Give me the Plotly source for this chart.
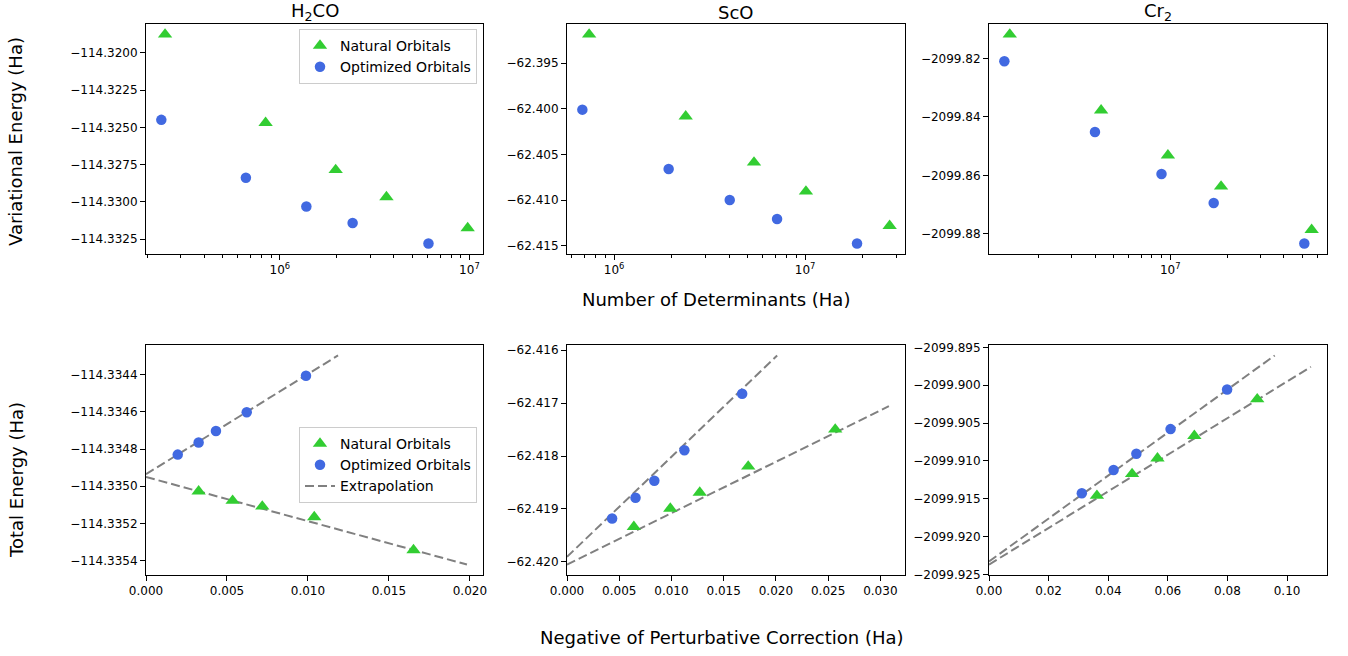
import math
import plotly.graph_objects as go

# ---------------- data: top row (variational energy vs number of determinants) ----------------
h2co_nat_ndet = [2.48e5, 8.41e5, 1.97e6, 3.65e6, 9.79e6]
h2co_nat_evar = [-114.31877, -114.32470, -114.32786, -114.32968, -114.33176]
h2co_opt_ndet = [2.37e5, 6.62e5, 1.38e6, 2.42e6, 6.08e6]
h2co_opt_evar = [-114.32450, -114.32838, -114.33031, -114.33142, -114.33280]

sco_nat_ndet = [7.40e5, 2.37e6, 5.40e6, 1.01e7, 2.77e7]
sco_nat_evar = [-62.39186, -62.40082, -62.40587, -62.40905, -62.41281]
sco_opt_ndet = [6.82e5, 1.93e6, 4.03e6, 7.13e6, 1.87e7]
sco_opt_evar = [-62.40009, -62.40659, -62.40999, -62.41207, -62.41475]

cr2_nat_ndet = [1.41e6, 4.30e6, 9.72e6, 1.86e7, 5.62e7]
cr2_nat_evar = [-2099.81177, -2099.83773, -2099.85317, -2099.86381, -2099.87866]
cr2_opt_ndet = [1.32e6, 3.99e6, 8.99e6, 1.70e7, 5.14e7]
cr2_opt_evar = [-2099.82093, -2099.84514, -2099.85955, -2099.86950, -2099.88336]

# ---------------- data: bottom row (total energy vs -PT2 correction) ----------------
h2co_nat_pt2 = [0.00325, 0.00535, 0.00718, 0.01039, 0.01652]
h2co_nat_etot = [-114.335027, -114.335077, -114.335108, -114.335165, -114.335342]
h2co_opt_pt2 = [0.00196, 0.00325, 0.00432, 0.00622, 0.00988]
h2co_opt_etot = [-114.334830, -114.334765, -114.334703, -114.334603, -114.334407]

sco_nat_pt2 = [0.00640, 0.00989, 0.01271, 0.01735, 0.02568]
sco_nat_etot = [-62.419338, -62.418992, -62.418690, -62.418198, -62.417499]
sco_opt_pt2 = [0.00432, 0.00656, 0.00836, 0.01124, 0.01677]
sco_opt_etot = [-62.419181, -62.418790, -62.418469, -62.417890, -62.416824]

cr2_nat_pt2 = [0.0362, 0.0480, 0.05652, 0.06889, 0.08999]
cr2_nat_etot = [-2099.91460, -2099.91173, -2099.90966, -2099.90668, -2099.90185]
cr2_opt_pt2 = [0.03114, 0.04179, 0.04944, 0.06090, 0.07988]
cr2_opt_etot = [-2099.91428, -2099.91120, -2099.90906, -2099.90580, -2099.90057]

# extrapolation lines (end points)
h2co_nat_fit_x = [0.0, 0.01982]
h2co_nat_fit_y = [-114.334950, -114.335420]
h2co_opt_fit_x = [0.0, 0.01186]
h2co_opt_fit_y = [-114.334935, -114.334298]

sco_nat_fit_x = [0.0, 0.03082]
sco_nat_fit_y = [-62.420051, -62.417059]
sco_opt_fit_x = [0.0, 0.02012]
sco_opt_fit_y = [-62.419906, -62.416100]

cr2_nat_fit_x = [0.0, 0.10799]
cr2_nat_fit_y = [-2099.92370, -2099.89758]
cr2_opt_fit_x = [0.0, 0.09586]
cr2_opt_fit_y = [-2099.92330, -2099.89607]

# ---------------- titles / labels / ticks ----------------
titles = ["H<sub>2</sub>CO", "ScO", "Cr<sub>2</sub>"]
top_ylabel = "Variational Energy (Ha)"
bottom_ylabel = "Total Energy (Ha)"
top_xlabel = "Number of Determinants (Ha)"
bottom_xlabel = "Negative of Perturbative Correction (Ha)"
legend_names = ["Natural Orbitals", "Optimized Orbitals", "Extrapolation"]

top_yticks = [
    [-114.3200, -114.3225, -114.3250, -114.3275, -114.3300, -114.3325],
    [-62.395, -62.400, -62.405, -62.410, -62.415],
    [-2099.82, -2099.84, -2099.86, -2099.88],
]
top_yfmt = [".4f", ".3f", ".2f"]
bottom_yticks = [
    [-114.3344, -114.3346, -114.3348, -114.3350, -114.3352, -114.3354],
    [-62.416, -62.417, -62.418, -62.419, -62.420],
    [-2099.895, -2099.900, -2099.905, -2099.910, -2099.915, -2099.920, -2099.925],
]
bottom_yfmt = [".4f", ".3f", ".3f"]
bottom_xticks = [
    [0.000, 0.005, 0.010, 0.015, 0.020],
    [0.000, 0.005, 0.010, 0.015, 0.020, 0.025, 0.030],
    [0.00, 0.02, 0.04, 0.06, 0.08, 0.10],
]
bottom_xfmt = [".3f", ".3f", ".2f"]
log_major_exps = [6, 7]

# ---------------- styling ----------------
W, H = 1348, 656
GREEN = "#32CD32"
BLUE = "#4169E1"
GRAY = "#808080"
FONT = "DejaVu Sans"

col_px = [(146, 483), (567, 905), (989, 1327)]
top_px = (24, 254)
bot_px = (345, 575)


def xdom(c):
    return [col_px[c][0] / W, col_px[c][1] / W]


def ydom(r):
    a, b = r
    return [1 - b / H, 1 - a / H]


def padded(vals, frac=0.05):
    lo, hi = min(vals), max(vals)
    d = (hi - lo) * frac
    return [lo - d, hi + d]


axis_base = dict(
    showline=True, mirror=True, linecolor="black", linewidth=1,
    ticks="outside", ticklen=5, tickwidth=1, tickcolor="black",
    showgrid=False, zeroline=False, automargin=False,
    tickfont=dict(family=FONT, size=12, color="black"),
)

top_sets = [
    (h2co_nat_ndet, h2co_nat_evar, h2co_opt_ndet, h2co_opt_evar),
    (sco_nat_ndet, sco_nat_evar, sco_opt_ndet, sco_opt_evar),
    (cr2_nat_ndet, cr2_nat_evar, cr2_opt_ndet, cr2_opt_evar),
]
bot_sets = [
    (h2co_nat_pt2, h2co_nat_etot, h2co_opt_pt2, h2co_opt_etot,
     h2co_nat_fit_x, h2co_nat_fit_y, h2co_opt_fit_x, h2co_opt_fit_y),
    (sco_nat_pt2, sco_nat_etot, sco_opt_pt2, sco_opt_etot,
     sco_nat_fit_x, sco_nat_fit_y, sco_opt_fit_x, sco_opt_fit_y),
    (cr2_nat_pt2, cr2_nat_etot, cr2_opt_pt2, cr2_opt_etot,
     cr2_nat_fit_x, cr2_nat_fit_y, cr2_opt_fit_x, cr2_opt_fit_y),
]

fig = go.Figure()
layout = {}

tri = dict(symbol="triangle-up", size=12.5, color=GREEN, line=dict(width=0))
circ = dict(symbol="circle", size=10.5, color=BLUE, line=dict(width=0))
dash_line = dict(color=GRAY, width=2, dash="9px,4px")

for c in range(3):
    # ---------- top row ----------
    n = 2 * c + 1
    xa, ya = f"x{n}", f"y{n}"
    nx, ny, ox, oy = top_sets[c]
    fig.add_trace(go.Scatter(x=nx, y=ny, mode="markers", marker=tri,
                             name=legend_names[0], xaxis=xa, yaxis=ya,
                             showlegend=(c == 0), legend="legend"))
    fig.add_trace(go.Scatter(x=ox, y=oy, mode="markers", marker=circ,
                             name=legend_names[1], xaxis=xa, yaxis=ya,
                             showlegend=(c == 0), legend="legend"))
    logs = [math.log10(v) for v in nx + ox]
    xr = padded(logs)
    yr = padded(ny + oy)
    minor_vals = [k * 10 ** d for d in range(5, 8) for k in range(2, 10)]
    layout[f"xaxis{n}"] = dict(
        axis_base, type="log", domain=xdom(c), anchor=ya, range=xr,
        tickvals=[10 ** e for e in log_major_exps],
        ticktext=[f"10<sup>{e}</sup>" for e in log_major_exps],
        minor=dict(tickvals=minor_vals, ticks="outside", ticklen=3,
                   tickwidth=0.8, tickcolor="black", showgrid=False),
    )
    layout[f"yaxis{n}"] = dict(
        axis_base, domain=ydom(top_px), anchor=xa, range=yr,
        tickvals=top_yticks[c], tickformat=top_yfmt[c],
    )

    # ---------- bottom row ----------
    m = 2 * c + 2
    xb, yb = f"x{m}", f"y{m}"
    bnx, bny, box_, boy, fnx, fny, fox, foy = bot_sets[c]
    fig.add_trace(go.Scatter(x=fnx, y=fny, mode="lines", line=dash_line,
                             name=legend_names[2], xaxis=xb, yaxis=yb,
                             showlegend=False, legend="legend2"))
    fig.add_trace(go.Scatter(x=fox, y=foy, mode="lines", line=dash_line,
                             name=legend_names[2], xaxis=xb, yaxis=yb,
                             showlegend=False, legend="legend2"))
    fig.add_trace(go.Scatter(x=bnx, y=bny, mode="markers", marker=tri,
                             name=legend_names[0], xaxis=xb, yaxis=yb,
                             showlegend=(c == 0), legend="legend2"))
    fig.add_trace(go.Scatter(x=box_, y=boy, mode="markers", marker=circ,
                             name=legend_names[1], xaxis=xb, yaxis=yb,
                             showlegend=(c == 0), legend="legend2"))
    if c == 0:
        fig.add_trace(go.Scatter(x=[None], y=[None], mode="lines", line=dash_line,
                                 name=legend_names[2], xaxis=xb, yaxis=yb,
                                 showlegend=True, legend="legend2"))
    allx = bnx + box_ + fnx + fox
    ally = bny + boy + fny + foy
    bxr = padded(allx)
    bxr[0] = 0.0
    layout[f"xaxis{m}"] = dict(
        axis_base, domain=xdom(c), anchor=yb, range=bxr,
        tickvals=bottom_xticks[c], tickformat=bottom_xfmt[c],
    )
    layout[f"yaxis{m}"] = dict(
        axis_base, domain=ydom(bot_px), anchor=xb, range=padded(ally),
        tickvals=bottom_yticks[c], tickformat=bottom_yfmt[c],
    )

ann = []
title_centers = [314.5, 736, 1158]
for c in range(3):
    ann.append(dict(text=titles[c], x=title_centers[c] / W, y=1 - 12 / H,
                    xref="paper", yref="paper", showarrow=False,
                    xanchor="center", yanchor="middle",
                    font=dict(family=FONT, size=18, color="black")))
label_font = dict(family=FONT, size=18, color="black")
ann.append(dict(text=top_ylabel, x=16 / W, y=1 - 142 / H, xref="paper", yref="paper",
                showarrow=False, textangle=-90, xanchor="center", yanchor="middle",
                font=label_font))
ann.append(dict(text=bottom_ylabel, x=16 / W, y=1 - 480 / H, xref="paper", yref="paper",
                showarrow=False, textangle=-90, xanchor="center", yanchor="middle",
                font=label_font))
ann.append(dict(text=top_xlabel, x=716 / W, y=1 - 299 / H, xref="paper", yref="paper",
                showarrow=False, xanchor="center", yanchor="middle", font=label_font))
ann.append(dict(text=bottom_xlabel, x=722 / W, y=1 - 637 / H, xref="paper", yref="paper",
                showarrow=False, xanchor="center", yanchor="middle", font=label_font))

legend_style = dict(
    bgcolor="rgba(255,255,255,0.85)", bordercolor="#cccccc", borderwidth=1,
    font=dict(family=FONT, size=14, color="black"),
    xanchor="right", yanchor="top", tracegroupgap=0, itemwidth=30,
)

fig.update_layout(
    template="none",
    width=W, height=H, autosize=False,
    margin=dict(l=0, r=0, t=0, b=0, pad=0, autoexpand=False),
    paper_bgcolor="white", plot_bgcolor="white",
    font=dict(family=FONT, size=12, color="black"),
    annotations=ann,
    legend=dict(legend_style, x=477 / W, y=1 - 29 / H),
    legend2=dict(legend_style, x=477 / W, y=1 - 427 / H),
    **layout,
)

fig.write_html(
    "out.html",
    config=dict(displayModeBar=False),
    post_script="document.body.style.margin='0px';document.body.style.padding='0px';",
)
